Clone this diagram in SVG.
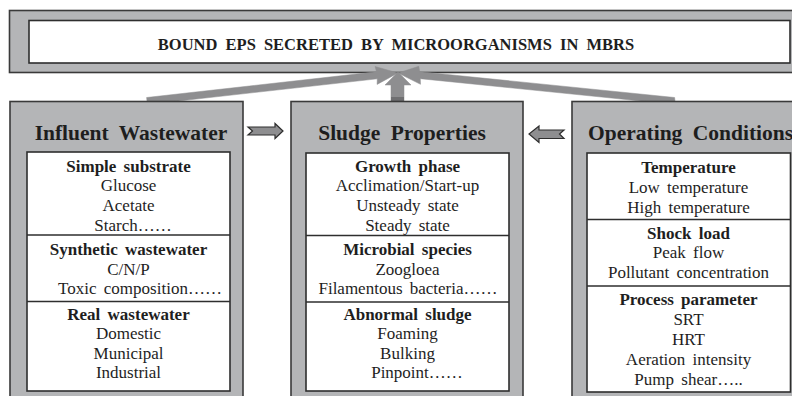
<svg xmlns="http://www.w3.org/2000/svg" width="792" height="396" viewBox="0 0 792 396">
<style>
.panel{fill:#b4b5b7;stroke:#3a3a3a;stroke-width:1.6}
.inner{fill:#ffffff;stroke:#2e2e2e;stroke-width:1.6}
.div{stroke:#2e2e2e;stroke-width:1.6}
.arr{fill:#8e8e90;stroke:#8e8e90;stroke-width:0.5}
.blk{fill:#8e8e90;stroke:#2e2e2e;stroke-width:1.2;stroke-linejoin:miter}
.hd{font-family:"Liberation Serif","Times New Roman",serif;font-weight:bold;font-size:21.5px;fill:#1e1e1e;word-spacing:5px}
.t{font-family:"Liberation Serif","Times New Roman",serif;font-size:17px;fill:#1e1e1e;text-anchor:middle;word-spacing:3px}
.b{font-weight:bold}
.title{font-family:"Liberation Serif","Times New Roman",serif;font-weight:bold;font-size:16.5px;fill:#1e1e1e;text-anchor:middle;word-spacing:4px}
</style>
<rect width="792" height="396" fill="#ffffff"/>

<g id="top">
<rect class="panel" x="9.5" y="10.5" width="792" height="62"/>
<rect class="inner" x="29" y="20.5" width="761" height="42.5"/>
<text class="title" x="396" y="49.5">BOUND EPS SECRETED BY MICROORGANISMS IN MBRS</text>
</g>

<g id="connectors">
<polygon class="arr" points="146.6,97.5 376.5,71.8 375.1,66.5 398,73 377.1,84.4 377.3,78.8 147.4,104.5"/>
<polygon class="arr" points="675.4,104.5 420.3,78.7 420.5,84.3 398,73 418.8,66.3 419.7,71.7 674.6,97.5"/>
<rect class="arr" x="391" y="84" width="13" height="18"/>
<rect x="391" y="97" width="13" height="4.5" fill="#6f6f71"/>
<polygon class="arr" points="398,72 411,85 385,85"/>
<polygon class="blk" points="248,127 275,127 275,123.5 283,131 275,138.5 275,135 248,135 252.5,131"/>
<polygon class="blk" points="564,130 539,130 539,126 529,134 539,142.5 539,138.5 564,138.5 559.5,134"/>
</g>

<g id="influent">
<rect class="panel" x="10" y="101.5" width="233" height="300"/>
<text class="hd" x="131" y="140" text-anchor="middle">Influent Wastewater</text>
<rect class="inner" x="27" y="152" width="203" height="239"/>
<line class="div" x1="27" y1="235" x2="230" y2="235"/>
<line class="div" x1="27" y1="301.5" x2="230" y2="301.5"/>
<text class="t b" x="128.5" y="172">Simple substrate</text>
<text class="t" x="128.5" y="191">Glucose</text>
<text class="t" x="128.5" y="211">Acetate</text>
<text class="t" x="133" y="230.5">Starch……</text>
<text class="t b" x="128.5" y="255">Synthetic wastewater</text>
<text class="t" x="128.5" y="274.5">C/N/P</text>
<text class="t" x="140" y="294">Toxic composition……</text>
<text class="t b" x="128.5" y="320">Real wastewater</text>
<text class="t" x="128.5" y="339">Domestic</text>
<text class="t" x="128.5" y="358.5">Municipal</text>
<text class="t" x="128.5" y="378">Industrial</text>
</g>

<g id="sludge">
<rect class="panel" x="291" y="101.5" width="232" height="300"/>
<text class="hd" x="402" y="140" text-anchor="middle">Sludge Properties</text>
<rect class="inner" x="306" y="153" width="203" height="238"/>
<line class="div" x1="306" y1="235.5" x2="509" y2="235.5"/>
<line class="div" x1="306" y1="302" x2="509" y2="302"/>
<text class="t b" x="407.5" y="172">Growth phase</text>
<text class="t" x="407.5" y="191">Acclimation/Start-up</text>
<text class="t" x="407.5" y="211">Unsteady state</text>
<text class="t" x="407.5" y="230.5">Steady state</text>
<text class="t b" x="407.5" y="255">Microbial species</text>
<text class="t" x="407.5" y="274.5">Zoogloea</text>
<text class="t" x="408" y="294">Filamentous bacteria……</text>
<text class="t b" x="407.5" y="320">Abnormal sludge</text>
<text class="t" x="407.5" y="339">Foaming</text>
<text class="t" x="407.5" y="358.5">Bulking</text>
<text class="t" x="417" y="378">Pinpoint……</text>
</g>

<g id="operating">
<rect class="panel" x="572" y="101.5" width="230" height="300"/>
<text class="hd" x="588" y="140">Operating Conditions</text>
<rect class="inner" x="587" y="153" width="203.5" height="239"/>
<line class="div" x1="587" y1="219.5" x2="790.5" y2="219.5"/>
<line class="div" x1="587" y1="286" x2="790.5" y2="286"/>
<text class="t b" x="688.5" y="173">Temperature</text>
<text class="t" x="688.5" y="193">Low temperature</text>
<text class="t" x="688.5" y="213">High temperature</text>
<text class="t b" x="688.5" y="238.5">Shock load</text>
<text class="t" x="688.5" y="258">Peak flow</text>
<text class="t" x="688.5" y="278">Pollutant concentration</text>
<text class="t b" x="688.5" y="305">Process parameter</text>
<text class="t" x="688.5" y="325">SRT</text>
<text class="t" x="688.5" y="345">HRT</text>
<text class="t" x="688.5" y="365">Aeration intensity</text>
<text class="t" x="688.5" y="385">Pump shear…..</text>
</g>
</svg>
